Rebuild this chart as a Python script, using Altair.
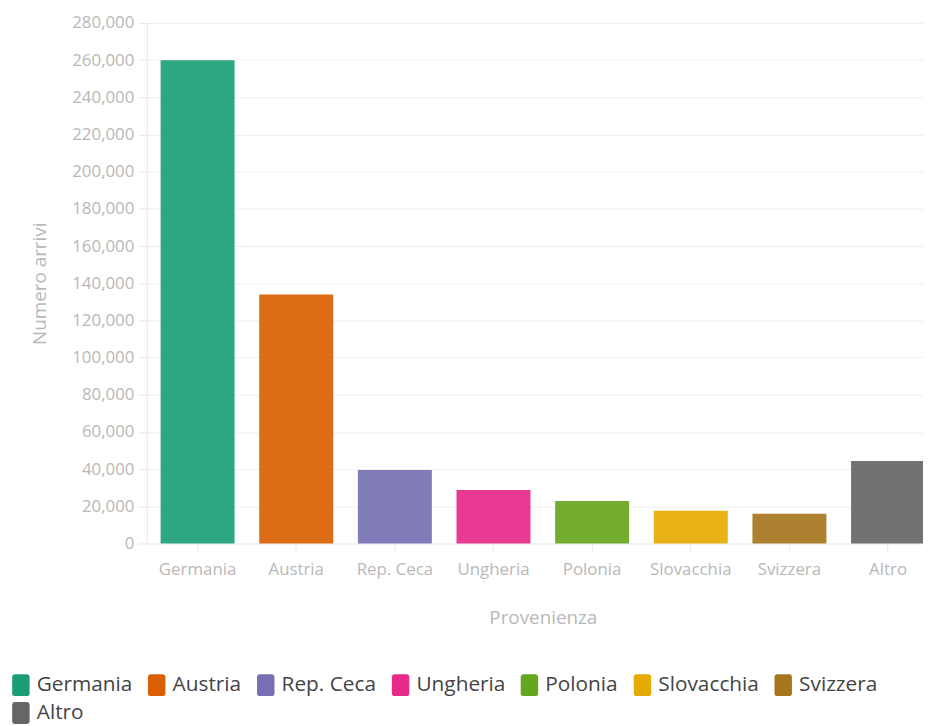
import altair as alt
import pandas as pd

categories = ["Germania", "Austria", "Rep. Ceca", "Ungheria", "Polonia", "Slovacchia", "Svizzera", "Altro"]
values = [260000, 134000, 39500, 28800, 22800, 17600, 16000, 44300]
colors = ["#1b9e77", "#d95f02", "#7570b3", "#e7298a", "#66a61e", "#e6ab02", "#a6761d", "#666666"]
y_ticks = list(range(0, 280001, 20000))

df = pd.DataFrame({"Provenienza": categories, "Arrivi": values})

FONT = "Open Sans"
rounded = ("M-0.55,-1H0.55A0.25,0.25 0 0 1 0.8,-0.75V0.75A0.25,0.25 0 0 1 0.55,1"
           "H-0.55A0.25,0.25 0 0 1 -0.8,0.75V-0.75A0.25,0.25 0 0 1 -0.55,-1Z")

chart = alt.Chart(df).mark_bar(opacity=0.92).encode(
    x=alt.X("Provenienza:N", sort=categories,
            scale=alt.Scale(range=[0, 799], paddingInner=0.25, paddingOuter=0.14),
            axis=alt.Axis(title="Provenienza", labelAngle=0, labelFontSize=17,
                          labelColor="#b8b8b8", titleFontSize=19, titleColor="#b8b8b8",
                          titleFontWeight="normal", labelPadding=10, titlePadding=32,
                          tickColor="#e8e8e8", tickSize=8, domainColor="#eeeeee",
                          labelFont=FONT, titleFont=FONT)),
    y=alt.Y("Arrivi:Q", scale=alt.Scale(domain=[0, 280000], nice=False),
            axis=alt.Axis(title="Numero arrivi", values=y_ticks, format=",.0f",
                          labelFontSize=17, labelColor="#b8b8b8", titleFontSize=19,
                          titleColor="#b8b8b8", titleFontWeight="normal",
                          labelPadding=4, titlePadding=22, tickColor="#e8e8e8",
                          tickSize=9, domainColor="#f0e4e4", gridColor="#efefef",
                          labelFont=FONT, titleFont=FONT)),
    color=alt.Color("Provenienza:N", sort=categories,
                    scale=alt.Scale(domain=categories, range=colors),
                    legend=alt.Legend(title=None, orient="none", legendX=-138, legendY=657,
                                      direction="horizontal", columns=7,
                                      symbolType=rounded, symbolSize=484,
                                      symbolStrokeWidth=0, symbolOpacity=1,
                                      labelFontSize=21, labelColor="#444444",
                                      labelFont=FONT, labelOffset=5,
                                      columnPadding=13, rowPadding=6, padding=0,
                                      labelLimit=300)),
).properties(
    width=783, height=525,
    autosize=alt.AutoSizeParams(type="none"),
    padding={"left": 140, "top": 12, "right": 0, "bottom": 181},
).configure_view(stroke=None)

chart.save("out.html", embed_options={"renderer": "svg", "actions": False})
